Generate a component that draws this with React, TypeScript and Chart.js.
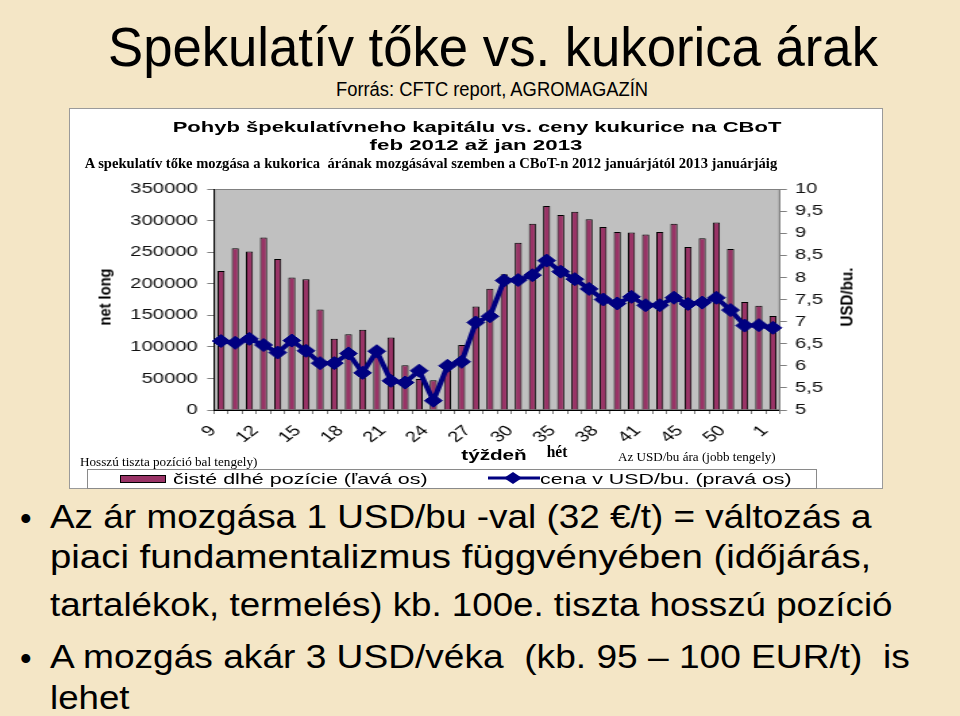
import React, { useEffect, useLayoutEffect, useRef } from "react";
import { Chart, registerables } from "chart.js";
Chart.register(...registerables);

const SANS = "'Liberation Sans', Arial, Helvetica, sans-serif";
const SERIF = "'Liberation Serif', 'Times New Roman', Times, serif";

// week numbers (x categories)
const weeks = [
  "9", "10", "11", "12", "13", "14", "15", "16", "17", "18", "19", "20", "21", "22",
  "23", "24", "25", "26", "27", "28", "29", "30", "32", "33", "35", "36", "37", "38",
  "39", "40", "41", "42", "43", "45", "46", "48", "50", "51", "52", "1",
];

// net long positions (left axis)
const netLong = [
  220000, 256000, 251000, 273000, 239000, 210000, 207000, 159000, 113000, 120000,
  127000, 87000, 115000, 71000, 49000, 47000, 66000, 103000, 164000, 192000,
  215000, 265000, 295000, 323000, 309000, 314000, 302000, 290000, 282000, 281000,
  278000, 282000, 295000, 258000, 272000, 297000, 255000, 171000, 165000, 149000,
];

// price USD/bu (right axis)
const price = [
  6.56, 6.52, 6.61, 6.47, 6.3, 6.57, 6.34, 6.06, 6.06, 6.28,
  5.84, 6.33, 5.66, 5.62, 5.89, 5.21, 6.0, 6.09, 6.98, 7.12,
  7.93, 7.94, 8.05, 8.38, 8.13, 7.96, 7.74, 7.5, 7.41, 7.56,
  7.37, 7.37, 7.54, 7.4, 7.43, 7.54, 7.26, 6.91, 6.92, 6.86,
];

const leftAxis = { min: 0, max: 350000, step: 50000 };
const rightAxis = { min: 5, max: 10, step: 0.5 };

const barLabel = "čisté dlhé pozície (ľavá os)";
const lineLabel = "cena v USD/bu. (pravá os)";

const STRETCH = 1.35;
const BOX = { left: 69, top: 108, width: 814, height: 381 };
const INNER_W = BOX.width / STRETCH;

type TP = {
  x: number;
  y: number;
  w?: number;
  size: number;
  family?: string;
  weight?: string | number;
  anchor?: "center" | "left";
  color?: string;
  rotate?: boolean;
  children: React.ReactNode;
};

function T({ x, y, w, size, family = SANS, weight = "normal", anchor = "center", color = "#000", rotate = false, children }: TP) {
  const ref = useRef<HTMLDivElement>(null);
  useLayoutEffect(() => {
    const el = ref.current;
    if (!el) return;
    const k = w ? w / el.offsetWidth : 1;
    if (rotate) el.style.transform = `translate(-50%,-50%) rotate(-90deg) scaleX(${k})`;
    else if (anchor === "center") el.style.transform = `translate(-50%,-50%) scaleX(${k})`;
    else el.style.transform = `translateY(-50%) scaleX(${k})`;
  }, [w, rotate, anchor]);
  return (
    <div
      ref={ref}
      style={{
        position: "absolute",
        left: x,
        top: y,
        fontSize: size,
        lineHeight: `${size}px`,
        fontFamily: family,
        fontWeight: weight as any,
        color,
        whiteSpace: "pre",
        transformOrigin: anchor === "center" || rotate ? "50% 50%" : "0 50%",
        transform: anchor === "center" || rotate ? "translate(-50%,-50%)" : "translateY(-50%)",
      }}
    >
      {children}
    </div>
  );
}

const plotBg = {
  id: "plotBg",
  beforeDraw(chart: any) {
    const { ctx, chartArea: a } = chart;
    ctx.save();
    ctx.fillStyle = "#C0C0C0";
    ctx.fillRect(a.left, a.top, a.right - a.left, a.bottom - a.top);
    ctx.strokeStyle = "#808080";
    ctx.lineWidth = 1;
    ctx.strokeRect(a.left + 0.5, a.top + 0.5, a.right - a.left - 1, a.bottom - a.top - 1);
    ctx.restore();
  },
};

function ChartBox() {
  const ref = useRef<HTMLCanvasElement>(null);
  useEffect(() => {
    if (!ref.current) return;
    const chart = new Chart(ref.current, {
      type: "bar",
      data: {
        labels: weeks,
        datasets: [
          {
            type: "line",
            label: lineLabel,
            data: price,
            yAxisID: "y1",
            borderColor: "#000080",
            backgroundColor: "#000080",
            borderWidth: 4,
            pointStyle: "rectRot",
            pointRadius: 6.5,
            pointBorderWidth: 1,
            pointBackgroundColor: "#000080",
            pointBorderColor: "#000080",
            tension: 0,
            order: 0,
          } as any,
          {
            type: "bar",
            label: barLabel,
            data: netLong,
            yAxisID: "y",
            backgroundColor: "#993366",
            borderColor: "#000000",
            borderWidth: 1,
            barPercentage: 0.5,
            categoryPercentage: 1,
            order: 1,
          } as any,
        ],
      },
      options: {
        animation: false,
        responsive: true,
        maintainAspectRatio: false,
        layout: { padding: { top: 81, left: 0, right: 0, bottom: 0 } },
        plugins: {
          legend: { display: false },
          tooltip: { enabled: false },
          title: { display: false },
        },
        font: { family: SANS },
        scales: {
          x: {
            offset: true,
            grid: { display: true, drawOnChartArea: false, tickLength: 4, color: "#808080", offset: true },
            border: { color: "#000" },
            ticks: {
              autoSkip: false,
              minRotation: 45,
              maxRotation: 45,
              padding: 8,
              labelOffset: -6,
              color: "#000",
              font: { family: SANS, size: 15 },
              callback: (_v: any, i: number) => (i % 3 === 0 ? weeks[i] : ""),
            },
            afterFit: (s: any) => {
              s.height = 79;
            },
          },
          y: {
            position: "left",
            min: leftAxis.min,
            max: leftAxis.max,
            ticks: {
              stepSize: leftAxis.step,
              padding: 7,
              color: "#111",
              font: { family: SANS, size: 15 },
              callback: (v: any) => String(v),
            },
            grid: { drawOnChartArea: false, tickLength: 5, color: "#808080" },
            border: { color: "#000" },
            afterFit: (s: any) => {
              s.width = (214 - BOX.left) / STRETCH;
            },
          },
          y1: {
            position: "right",
            min: rightAxis.min,
            max: rightAxis.max,
            ticks: {
              stepSize: rightAxis.step,
              padding: 6,
              color: "#111",
              font: { family: SANS, size: 15 },
              callback: (v: any) => String(v).replace(".", ","),
            },
            grid: { drawOnChartArea: false, tickLength: 5, color: "#808080" },
            border: { color: "#808080" },
            afterFit: (s: any) => {
              s.width = INNER_W - (780 - BOX.left) / STRETCH;
            },
          },
        },
      } as any,
      plugins: [plotBg],
    });
    return () => chart.destroy();
  }, []);
  return (
    <div
      style={{
        position: "absolute",
        left: BOX.left,
        top: BOX.top,
        width: INNER_W,
        height: BOX.height,
        transform: `scaleX(${STRETCH})`,
        transformOrigin: "0 0",
      }}
    >
      <canvas ref={ref} />
    </div>
  );
}

export default function App() {
  return (
    <div
      style={{
        position: "fixed",
        left: 0,
        top: 0,
        width: 960,
        height: 716,
        overflow: "hidden",
        background: "#F4E6C6",
        fontFamily: SANS,
      }}
    >
      <T x={493} y={47} w={770} size={55}>Spekulatív tőke vs. kukorica árak</T>
      <T x={492} y={89} w={312} size={20}>Forrás: CFTC report, AGROMAGAZÍN</T>

      <div
        style={{
          position: "absolute",
          left: BOX.left,
          top: BOX.top,
          width: BOX.width - 2,
          height: BOX.height - 2,
          background: "#fff",
          border: "1px solid #9a9a9a",
        }}
      />
      <ChartBox />

      <T x={477} y={127} w={608} size={14} weight="bold">Pohyb špekulatívneho kapitálu vs. ceny kukurice na CBoT</T>
      <T x={476} y={145} w={213} size={14} weight="bold">feb 2012 až jan 2013</T>
      <T x={431} y={163} w={692} size={15} weight="bold" family={SERIF}>
        A spekulatív tőke mozgása a kukorica  árának mozgásával szemben a CBoT-n 2012 januárjától 2013 januárjáig
      </T>

      <T x={104.5} y={297} w={57} size={17} weight="bold" rotate>net long</T>
      <T x={847} y={297} w={59} size={17} weight="bold" rotate>USD/bu.</T>

      <T x={494} y={455} w={65} size={14} weight="bold">týždeň</T>
      <T x={556.7} y={451} w={21} size={17} weight="bold" family={SERIF}>hét</T>
      <T x={80} y={461} w={177} size={13} family={SERIF} anchor="left">Hosszú tiszta pozíció bal tengely)</T>
      <T x={618} y={456} w={158} size={13} family={SERIF} anchor="left">Az USD/bu ára (jobb tengely)</T>

      {/* legend */}
      <div
        style={{
          position: "absolute",
          left: 87,
          top: 469,
          width: 728,
          height: 18,
          background: "#fff",
          border: "1px solid #8a8a8a",
        }}
      />
      <div
        style={{
          position: "absolute",
          left: 120,
          top: 475,
          width: 44,
          height: 6,
          background: "#993366",
          border: "1px solid #000",
        }}
      />
      <T x={172.7} y={478} w={255} size={15} anchor="left">{barLabel}</T>
      <svg style={{ position: "absolute", left: 486, top: 470, width: 56, height: 16 }}>
        <line x1={2} y1={8} x2={54} y2={8} stroke="#000080" strokeWidth={3} />
        <polygon points="18,8 27,2 36,8 27,14" fill="#000080" />
      </svg>
      <T x={540} y={478} w={252} size={15} anchor="left">{lineLabel}</T>

      {/* bullets */}
      <T x={20} y={518} size={33} anchor="left">•</T>
      <T x={50} y={516} w={822} size={33} anchor="left">Az ár mozgása 1 USD/bu -val (32 €/t) = változás a</T>
      <T x={50} y={556} w={821} size={33} anchor="left">piaci fundamentalizmus függvényében (időjárás,</T>
      <T x={50} y={604} w={843} size={33} anchor="left">tartalékok, termelés) kb. 100e. tiszta hosszú pozíció</T>
      <T x={20} y={658} size={33} anchor="left">•</T>
      <T x={50} y={656} w={860} size={33} anchor="left">A mozgás akár 3 USD/véka  (kb. 95 – 100 EUR/t)  is</T>
      <T x={50} y={697} w={80} size={33} anchor="left">lehet</T>
    </div>
  );
}
